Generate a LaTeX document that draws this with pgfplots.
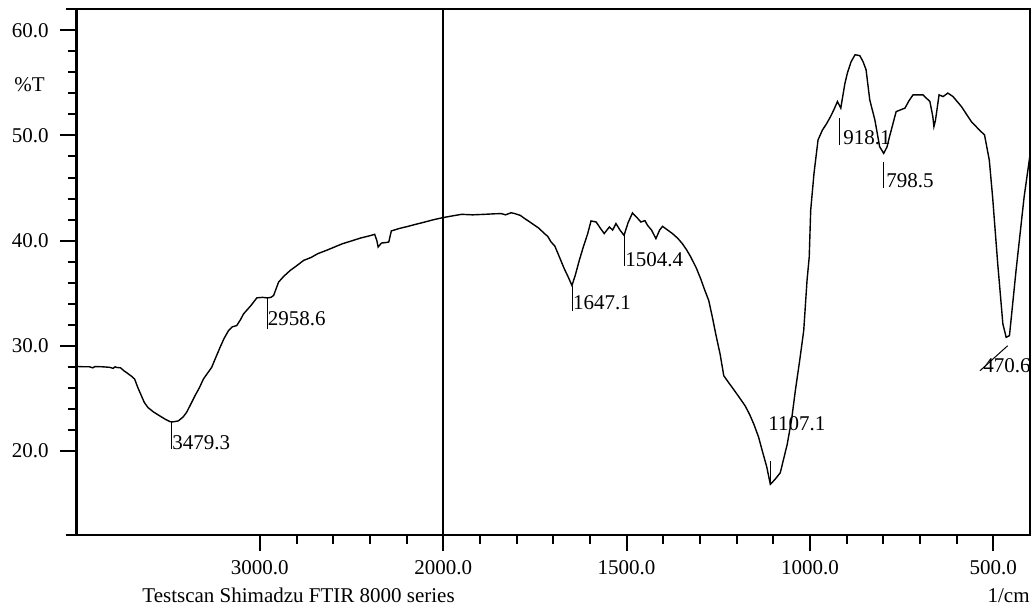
\documentclass[border=0pt]{standalone}
\usepackage{fontspec}
\setmainfont{Liberation Serif}
\usepackage{pgfplots}
\usepackage{pgfplotstable}
\pgfplotsset{compat=1.18}
\pgfplotstableread{
w T
4000 28.03
3960 28.00
3930 28.00
3911 27.90
3900 28.02
3860 28.00
3820 27.95
3800 27.85
3790 28.00
3783 27.94
3760 27.90
3740 27.60
3728 27.46
3700 27.10
3683 26.83
3665 26.00
3646 25.24
3630 24.60
3610 24.12
3580 23.70
3546 23.33
3515 23.00
3491 22.79
3479 22.75
3460 22.80
3445 22.85
3420 23.20
3400 23.65
3375 24.50
3354 25.24
3330 26.00
3308 26.83
3285 27.40
3263 27.94
3240 28.90
3217 29.85
3195 30.70
3171 31.44
3150 31.80
3126 31.92
3105 32.50
3089 33.03
3050 33.80
3016 34.56
2985 34.60
2959 34.55
2940 34.60
2925 34.78
2898 36.05
2870 36.60
2834 37.17
2800 37.60
2761 38.12
2720 38.40
2684 38.76
2640 39.05
2593 39.39
2550 39.70
2502 39.96
2450 40.25
2392 40.50
2374 40.60
2362 40.00
2355 39.39
2345 39.60
2337 39.77
2310 39.82
2297 39.87
2283 40.92
2240 41.15
2191 41.36
2150 41.55
2100 41.77
2050 42.00
2000 42.19
1975 42.35
1950 42.50
1920 42.45
1887 42.50
1860 42.55
1842 42.57
1830 42.45
1815 42.65
1805 42.57
1790 42.40
1778 42.10
1765 41.80
1751 41.46
1740 41.20
1724 40.67
1715 40.40
1706 39.87
1696 39.50
1687 38.76
1678 38.00
1670 37.33
1660 36.60
1649 35.73
1640 36.70
1629 38.12
1618 39.40
1606 40.67
1597 41.87
1583 41.77
1572 41.20
1561 40.67
1547 41.30
1538 41.00
1529 41.62
1518 41.00
1507 40.50
1496 41.70
1484 42.63
1472 42.20
1461 41.77
1450 41.90
1443 41.46
1432 41.00
1420 40.19
1410 41.00
1402 41.36
1388 41.00
1375 40.67
1360 40.20
1348 39.71
1336 39.10
1325 38.44
1310 37.40
1298 36.37
1287 35.30
1276 34.30
1266 32.70
1257 31.13
1245 29.20
1235 27.15
1224 26.60
1212 26.03
1195 25.20
1177 24.30
1165 23.50
1153 22.54
1140 21.30
1130 20.00
1118 18.50
1108 16.82
1095 17.30
1081 17.92
1072 19.20
1062 20.63
1050 23.00
1040 25.70
1028 28.60
1017 31.44
1008 36.21
1002 38.44
998 42.89
989 46.39
978 49.57
966 50.52
955 51.10
944 51.79
935 52.43
925 53.23
916 52.60
905 54.90
898 55.93
888 57.00
877 57.68
864 57.59
855 57.00
847 56.25
837 53.39
823 51.48
810 48.93
799 48.30
790 48.90
783 49.89
765 52.27
741 52.60
730 53.30
719 53.86
692 53.86
673 53.23
665 51.80
662 50.84
658 51.40
655 52.12
648 53.86
637 53.70
624 54.03
610 53.70
587 52.75
560 51.32
538 50.52
524 50.05
511 47.66
502 44.16
488 37.80
474 32.08
465 30.80
456 30.96
438 37.17
416 44.16
400 48.14
}\spec
\begin{document}
\fontsize{10.5}{12}\selectfont
\begin{tikzpicture}[font=\fontsize{10.5}{12}\selectfont]
\begin{axis}[
  scale only axis, width=476.75pt, height=262.85pt,
  at={(0,0)}, anchor=south west,
  xmin=0, xmax=5200, ymin=12, ymax=62,
  xtick={1000,2000,3000,4000,5000},
  xticklabels={3000.0,2000.0,1500.0,1000.0,500.0},
  ytick={20,30,40,50,60},
  yticklabels={20.0,30.0,40.0,50.0,60.0},
  minor x tick num=4, minor y tick num=4,
  tick align=outside,
  xtick pos=bottom, ytick pos=left,
  major tick length=8pt, minor tick length=4.3pt,
  tick style={black, line width=1pt},
  axis line style={black, line width=1.1pt},
  ticklabel style={font=\fontsize{10.5}{12}\selectfont},
  yticklabel style={xshift=-2.25pt},
  xticklabel style={yshift=-1pt},
  clip=false,
]
\addplot[black, line width=0.7pt] table[x expr={(\thisrow{w}>=2000) ? (4000-\thisrow{w}) : (6000-2*\thisrow{w})}, y=T] {\spec};
\draw[black, line width=1pt] (axis cs:2000,12) -- (axis cs:2000,62);
\tikzset{pk/.style={anchor=west, inner sep=0pt, font=\fontsize{10.5}{12}\selectfont}}
\draw[line width=0.5pt] (axis cs:520.7,22.75) -- (axis cs:520.7,20.18);
\node[pk] at (axis cs:520.7,20.75) {3479.3};
\draw[line width=0.5pt] (axis cs:1041.4,34.55) -- (axis cs:1041.4,31.63);
\node[pk] at (axis cs:1041.4,32.58) {2958.6};
\draw[line width=0.5pt] (axis cs:2705.8,35.73) -- (axis cs:2705.8,33.35);
\node[pk] at (axis cs:2705.8,34.06) {1647.1};
\draw[line width=0.5pt] (axis cs:2991.2,40.5) -- (axis cs:2991.2,37.55);
\node[pk] at (axis cs:2991.2,38.21) {1504.4};
\draw[line width=0.5pt] (axis cs:3785.8,19.03) -- (axis cs:3785.8,16.84);
\node[pk] at (axis cs:3771,22.57) {1107.1};
\draw[line width=0.5pt] (axis cs:4163.8,51.67) -- (axis cs:4163.8,49.09);
\node[pk] at (axis cs:4180,49.81) {918.1};
\draw[line width=0.5pt] (axis cs:4403,47.5) -- (axis cs:4403,44.96);
\node[pk] at (axis cs:4415,45.66) {798.5};
\draw[line width=0.5pt] (axis cs:5078,30.0) -- (axis cs:4927,27.62);
\node[pk] at (axis cs:4944,28.1) {470.6};
\node[anchor=east, inner sep=0pt] at (axis cs:0,54.85) [xshift=-15.75pt] {\%T};
\node[anchor=base west, inner sep=0pt] at (rel axis cs:0,0) [xshift=32.75pt, yshift=-34pt] {Testscan Shimadzu FTIR 8000 series};
\node[anchor=base east, inner sep=0pt] at (rel axis cs:1,0) [yshift=-34pt] {1/cm};
\end{axis}
\draw[line width=1.1pt] (0,262.85pt) -- ++(-5pt,0);
\draw[line width=1.1pt] (0,0) -- ++(-5pt,0);
\pgfresetboundingbox
\useasboundingbox (-38.25pt,-37.5pt) rectangle (478.75pt,267.5pt);
\end{tikzpicture}
\end{document}
